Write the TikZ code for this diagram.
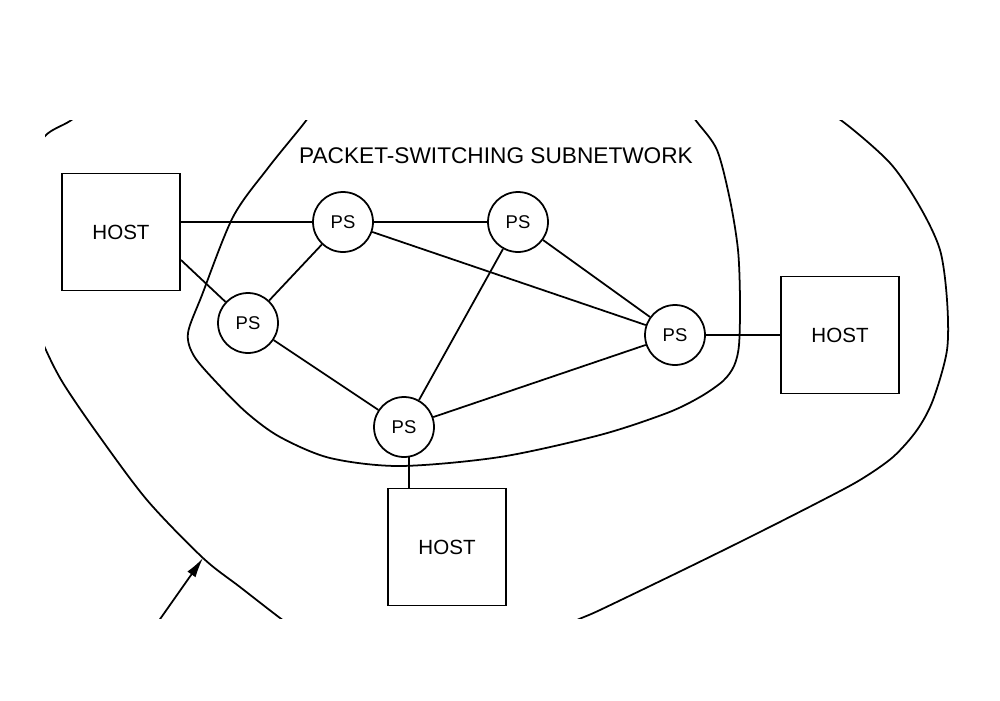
\documentclass[tikz,border=0pt]{standalone}
\usepackage{fontspec}
\setmainfont{Liberation Sans}
\usepackage{tikz}
\usetikzlibrary{arrows.meta}
\usetikzlibrary{shapes}

\tikzset{host/.style={draw,line width=1pt,minimum width=2.36cm,minimum height=2.34cm,font=\fontsize{11.7}{14}\selectfont},
  switch/.style={draw,circle,line width=1pt,minimum size=1.2cm,inner sep=0pt,fill=white,font=\fontsize{10.5}{12}\selectfont},
  link/.style={line width=1pt}}

\begin{document}
\begin{tikzpicture}[x=0.02cm,y=-0.02cm]
\useasboundingbox (0,0) rectangle (1000,700);
\begin{scope}
\clip (45,120) rectangle (1000,618) ;
\draw [link] plot [smooth] coordinates {(100,100) (70,121) (45,136) (25,170) (15,240) (25,300) (45,348) (63,383) (97,433) (147,500) (203,558) (240,587) (280,618) (300,632)};
\draw [link] plot [smooth] coordinates {(815,108) (842,121) (890,163) (920,207) (940,250) (947,300) (947,350) (933,400) (917,430) (893,457) (860,480) (817,503) (750,537) (683,570) (600,610) (577,620) (555,632)};
\draw [link] plot [smooth] coordinates {(318,102) (305,122) (268,168) (233,217) (202,295) (188,333) (194,356) (217,383) (247,413) (280,437) (330,458) (400,466) (500,457) (600,435) (667,413) (700,397) (723,381) (734,366) (739,345) (740,300) (738,250) (730,200) (717,150) (697,122) (682,102)};
\coordinate (tail) at (158,622);
\coordinate (tip) at (203,558);
\draw [link,-{Latex[length=4mm,width=2mm]}] (tail) -- (tip);
\end{scope}
\node at (496,156) {\fontsize{12.9}{15}\selectfont PACKET-SWITCHING SUBNETWORK};
\node[host] (hostl) at (121,232) {HOST};
\node[host] (hostr) at (840,335) {HOST};
\node[host] (hostb) at (447,547) {HOST};
\node[switch] (ps1) at (343,222) {PS};
\node[switch] (ps2) at (518,222) {PS};
\node[switch] (ps3) at (248,323) {PS};
\node[switch] (ps4) at (675,335) {PS};
\node[switch] (ps5) at (404,427) {PS};
\draw [link] (hostl.east |- ps1) -- (ps1);
\draw [link] (hostl.-25) -- (ps3);
\draw [link] (ps1) -- (ps2);
\draw [link] (ps1) -- (ps3);
\draw [link] (ps1) -- (ps4);
\draw [link] (ps2) -- (ps4);
\draw [link] (ps2) -- (ps5);
\draw [link] (ps3) -- (ps5);
\draw [link] (ps5) -- (ps4);
\draw [link] (ps4) -- (hostr);
\draw [link] (ps5.-80) -- (ps5.-80 |- hostb.north);
\end{tikzpicture}
\end{document}
